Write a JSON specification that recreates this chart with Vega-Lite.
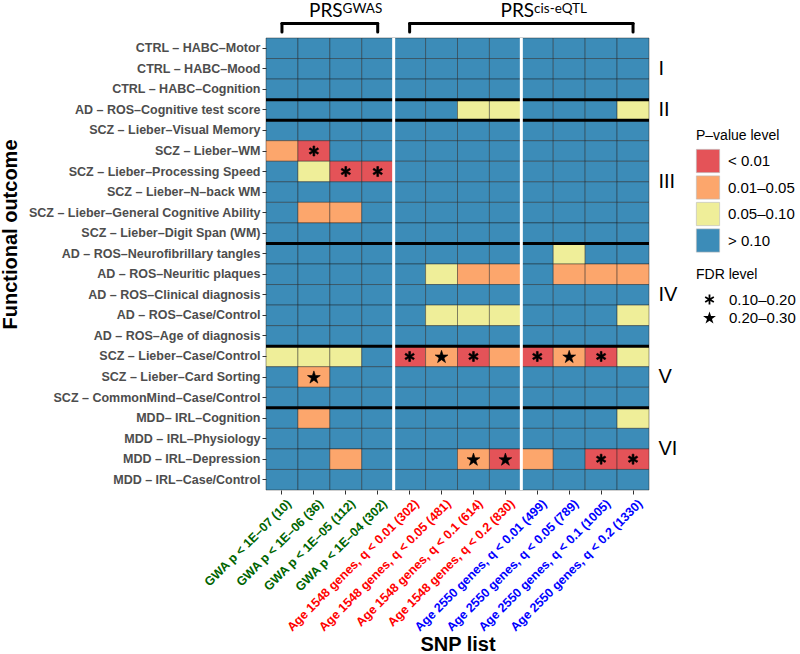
{
  "$schema": "https://vega.github.io/schema/vega-lite/v6.json",
  "padding": {"left": 0, "top": 0, "right": 0, "bottom": 0},
  "spacing": 0,
  "config": {"view": {"stroke": null}, "font": "Liberation Sans"},
  "datasets": {
    "outcomes": [
      {"r": 1, "o": "CTRL – HABC–Motor"},
      {"r": 2, "o": "CTRL – HABC–Mood"},
      {"r": 3, "o": "CTRL – HABC–Cognition"},
      {"r": 4, "o": "AD – ROS–Cognitive test score"},
      {"r": 5, "o": "SCZ – Lieber–Visual Memory"},
      {"r": 6, "o": "SCZ – Lieber–WM"},
      {"r": 7, "o": "SCZ – Lieber–Processing Speed"},
      {"r": 8, "o": "SCZ – Lieber–N–back WM"},
      {"r": 9, "o": "SCZ – Lieber–General Cognitive Ability"},
      {"r": 10, "o": "SCZ – Lieber–Digit Span (WM)"},
      {"r": 11, "o": "AD – ROS–Neurofibrillary tangles"},
      {"r": 12, "o": "AD – ROS–Neuritic plaques"},
      {"r": 13, "o": "AD – ROS–Clinical diagnosis"},
      {"r": 14, "o": "AD – ROS–Case/Control"},
      {"r": 15, "o": "AD – ROS–Age of diagnosis"},
      {"r": 16, "o": "SCZ – Lieber–Case/Control"},
      {"r": 17, "o": "SCZ – Lieber–Card Sorting"},
      {"r": 18, "o": "SCZ – CommonMind–Case/Control"},
      {"r": 19, "o": "MDD– IRL–Cognition"},
      {"r": 20, "o": "MDD – IRL–Physiology"},
      {"r": 21, "o": "MDD – IRL–Depression"},
      {"r": 22, "o": "MDD – IRL–Case/Control"}
    ],
    "snps": [
      {"c": 1, "s": "GWA p < 1E–07 (10)"},
      {"c": 2, "s": "GWA p < 1E–06 (36)"},
      {"c": 3, "s": "GWA p < 1E–05 (112)"},
      {"c": 4, "s": "GWA p < 1E–04 (302)"},
      {"c": 5, "s": "Age 1548 genes, q < 0.01 (302)"},
      {"c": 6, "s": "Age 1548 genes, q < 0.05 (481)"},
      {"c": 7, "s": "Age 1548 genes, q < 0.1 (614)"},
      {"c": 8, "s": "Age 1548 genes, q < 0.2 (830)"},
      {"c": 9, "s": "Age 2550 genes, q < 0.01 (499)"},
      {"c": 10, "s": "Age 2550 genes, q < 0.05 (789)"},
      {"c": 11, "s": "Age 2550 genes, q < 0.1 (1005)"},
      {"c": 12, "s": "Age 2550 genes, q < 0.2 (1330)"}
    ],
    "cells": [
      {"r":1,"c":1,"p":"> 0.10"},{"r":1,"c":2,"p":"> 0.10"},{"r":1,"c":3,"p":"> 0.10"},{"r":1,"c":4,"p":"> 0.10"},{"r":1,"c":5,"p":"> 0.10"},{"r":1,"c":6,"p":"> 0.10"},{"r":1,"c":7,"p":"> 0.10"},{"r":1,"c":8,"p":"> 0.10"},{"r":1,"c":9,"p":"> 0.10"},{"r":1,"c":10,"p":"> 0.10"},{"r":1,"c":11,"p":"> 0.10"},{"r":1,"c":12,"p":"> 0.10"},
      {"r":2,"c":1,"p":"> 0.10"},{"r":2,"c":2,"p":"> 0.10"},{"r":2,"c":3,"p":"> 0.10"},{"r":2,"c":4,"p":"> 0.10"},{"r":2,"c":5,"p":"> 0.10"},{"r":2,"c":6,"p":"> 0.10"},{"r":2,"c":7,"p":"> 0.10"},{"r":2,"c":8,"p":"> 0.10"},{"r":2,"c":9,"p":"> 0.10"},{"r":2,"c":10,"p":"> 0.10"},{"r":2,"c":11,"p":"> 0.10"},{"r":2,"c":12,"p":"> 0.10"},
      {"r":3,"c":1,"p":"> 0.10"},{"r":3,"c":2,"p":"> 0.10"},{"r":3,"c":3,"p":"> 0.10"},{"r":3,"c":4,"p":"> 0.10"},{"r":3,"c":5,"p":"> 0.10"},{"r":3,"c":6,"p":"> 0.10"},{"r":3,"c":7,"p":"> 0.10"},{"r":3,"c":8,"p":"> 0.10"},{"r":3,"c":9,"p":"> 0.10"},{"r":3,"c":10,"p":"> 0.10"},{"r":3,"c":11,"p":"> 0.10"},{"r":3,"c":12,"p":"> 0.10"},
      {"r":4,"c":1,"p":"> 0.10"},{"r":4,"c":2,"p":"> 0.10"},{"r":4,"c":3,"p":"> 0.10"},{"r":4,"c":4,"p":"> 0.10"},{"r":4,"c":5,"p":"> 0.10"},{"r":4,"c":6,"p":"> 0.10"},{"r":4,"c":7,"p":"0.05–0.10"},{"r":4,"c":8,"p":"0.05–0.10"},{"r":4,"c":9,"p":"> 0.10"},{"r":4,"c":10,"p":"> 0.10"},{"r":4,"c":11,"p":"> 0.10"},{"r":4,"c":12,"p":"0.05–0.10"},
      {"r":5,"c":1,"p":"> 0.10"},{"r":5,"c":2,"p":"> 0.10"},{"r":5,"c":3,"p":"> 0.10"},{"r":5,"c":4,"p":"> 0.10"},{"r":5,"c":5,"p":"> 0.10"},{"r":5,"c":6,"p":"> 0.10"},{"r":5,"c":7,"p":"> 0.10"},{"r":5,"c":8,"p":"> 0.10"},{"r":5,"c":9,"p":"> 0.10"},{"r":5,"c":10,"p":"> 0.10"},{"r":5,"c":11,"p":"> 0.10"},{"r":5,"c":12,"p":"> 0.10"},
      {"r":6,"c":1,"p":"0.01–0.05"},{"r":6,"c":2,"p":"< 0.01","f":"0.10–0.20"},{"r":6,"c":3,"p":"> 0.10"},{"r":6,"c":4,"p":"> 0.10"},{"r":6,"c":5,"p":"> 0.10"},{"r":6,"c":6,"p":"> 0.10"},{"r":6,"c":7,"p":"> 0.10"},{"r":6,"c":8,"p":"> 0.10"},{"r":6,"c":9,"p":"> 0.10"},{"r":6,"c":10,"p":"> 0.10"},{"r":6,"c":11,"p":"> 0.10"},{"r":6,"c":12,"p":"> 0.10"},
      {"r":7,"c":1,"p":"> 0.10"},{"r":7,"c":2,"p":"0.05–0.10"},{"r":7,"c":3,"p":"< 0.01","f":"0.10–0.20"},{"r":7,"c":4,"p":"< 0.01","f":"0.10–0.20"},{"r":7,"c":5,"p":"> 0.10"},{"r":7,"c":6,"p":"> 0.10"},{"r":7,"c":7,"p":"> 0.10"},{"r":7,"c":8,"p":"> 0.10"},{"r":7,"c":9,"p":"> 0.10"},{"r":7,"c":10,"p":"> 0.10"},{"r":7,"c":11,"p":"> 0.10"},{"r":7,"c":12,"p":"> 0.10"},
      {"r":8,"c":1,"p":"> 0.10"},{"r":8,"c":2,"p":"> 0.10"},{"r":8,"c":3,"p":"> 0.10"},{"r":8,"c":4,"p":"> 0.10"},{"r":8,"c":5,"p":"> 0.10"},{"r":8,"c":6,"p":"> 0.10"},{"r":8,"c":7,"p":"> 0.10"},{"r":8,"c":8,"p":"> 0.10"},{"r":8,"c":9,"p":"> 0.10"},{"r":8,"c":10,"p":"> 0.10"},{"r":8,"c":11,"p":"> 0.10"},{"r":8,"c":12,"p":"> 0.10"},
      {"r":9,"c":1,"p":"> 0.10"},{"r":9,"c":2,"p":"0.01–0.05"},{"r":9,"c":3,"p":"0.01–0.05"},{"r":9,"c":4,"p":"> 0.10"},{"r":9,"c":5,"p":"> 0.10"},{"r":9,"c":6,"p":"> 0.10"},{"r":9,"c":7,"p":"> 0.10"},{"r":9,"c":8,"p":"> 0.10"},{"r":9,"c":9,"p":"> 0.10"},{"r":9,"c":10,"p":"> 0.10"},{"r":9,"c":11,"p":"> 0.10"},{"r":9,"c":12,"p":"> 0.10"},
      {"r":10,"c":1,"p":"> 0.10"},{"r":10,"c":2,"p":"> 0.10"},{"r":10,"c":3,"p":"> 0.10"},{"r":10,"c":4,"p":"> 0.10"},{"r":10,"c":5,"p":"> 0.10"},{"r":10,"c":6,"p":"> 0.10"},{"r":10,"c":7,"p":"> 0.10"},{"r":10,"c":8,"p":"> 0.10"},{"r":10,"c":9,"p":"> 0.10"},{"r":10,"c":10,"p":"> 0.10"},{"r":10,"c":11,"p":"> 0.10"},{"r":10,"c":12,"p":"> 0.10"},
      {"r":11,"c":1,"p":"> 0.10"},{"r":11,"c":2,"p":"> 0.10"},{"r":11,"c":3,"p":"> 0.10"},{"r":11,"c":4,"p":"> 0.10"},{"r":11,"c":5,"p":"> 0.10"},{"r":11,"c":6,"p":"> 0.10"},{"r":11,"c":7,"p":"> 0.10"},{"r":11,"c":8,"p":"> 0.10"},{"r":11,"c":9,"p":"> 0.10"},{"r":11,"c":10,"p":"0.05–0.10"},{"r":11,"c":11,"p":"> 0.10"},{"r":11,"c":12,"p":"> 0.10"},
      {"r":12,"c":1,"p":"> 0.10"},{"r":12,"c":2,"p":"> 0.10"},{"r":12,"c":3,"p":"> 0.10"},{"r":12,"c":4,"p":"> 0.10"},{"r":12,"c":5,"p":"> 0.10"},{"r":12,"c":6,"p":"0.05–0.10"},{"r":12,"c":7,"p":"0.01–0.05"},{"r":12,"c":8,"p":"0.01–0.05"},{"r":12,"c":9,"p":"> 0.10"},{"r":12,"c":10,"p":"0.01–0.05"},{"r":12,"c":11,"p":"0.01–0.05"},{"r":12,"c":12,"p":"0.01–0.05"},
      {"r":13,"c":1,"p":"> 0.10"},{"r":13,"c":2,"p":"> 0.10"},{"r":13,"c":3,"p":"> 0.10"},{"r":13,"c":4,"p":"> 0.10"},{"r":13,"c":5,"p":"> 0.10"},{"r":13,"c":6,"p":"> 0.10"},{"r":13,"c":7,"p":"> 0.10"},{"r":13,"c":8,"p":"> 0.10"},{"r":13,"c":9,"p":"> 0.10"},{"r":13,"c":10,"p":"> 0.10"},{"r":13,"c":11,"p":"> 0.10"},{"r":13,"c":12,"p":"> 0.10"},
      {"r":14,"c":1,"p":"> 0.10"},{"r":14,"c":2,"p":"> 0.10"},{"r":14,"c":3,"p":"> 0.10"},{"r":14,"c":4,"p":"> 0.10"},{"r":14,"c":5,"p":"> 0.10"},{"r":14,"c":6,"p":"0.05–0.10"},{"r":14,"c":7,"p":"0.05–0.10"},{"r":14,"c":8,"p":"0.05–0.10"},{"r":14,"c":9,"p":"> 0.10"},{"r":14,"c":10,"p":"> 0.10"},{"r":14,"c":11,"p":"> 0.10"},{"r":14,"c":12,"p":"0.05–0.10"},
      {"r":15,"c":1,"p":"> 0.10"},{"r":15,"c":2,"p":"> 0.10"},{"r":15,"c":3,"p":"> 0.10"},{"r":15,"c":4,"p":"> 0.10"},{"r":15,"c":5,"p":"> 0.10"},{"r":15,"c":6,"p":"> 0.10"},{"r":15,"c":7,"p":"> 0.10"},{"r":15,"c":8,"p":"> 0.10"},{"r":15,"c":9,"p":"> 0.10"},{"r":15,"c":10,"p":"> 0.10"},{"r":15,"c":11,"p":"> 0.10"},{"r":15,"c":12,"p":"> 0.10"},
      {"r":16,"c":1,"p":"0.05–0.10"},{"r":16,"c":2,"p":"0.05–0.10"},{"r":16,"c":3,"p":"0.05–0.10"},{"r":16,"c":4,"p":"> 0.10"},{"r":16,"c":5,"p":"< 0.01","f":"0.10–0.20"},{"r":16,"c":6,"p":"0.01–0.05","f":"0.20–0.30"},{"r":16,"c":7,"p":"< 0.01","f":"0.10–0.20"},{"r":16,"c":8,"p":"0.01–0.05"},{"r":16,"c":9,"p":"< 0.01","f":"0.10–0.20"},{"r":16,"c":10,"p":"0.01–0.05","f":"0.20–0.30"},{"r":16,"c":11,"p":"< 0.01","f":"0.10–0.20"},{"r":16,"c":12,"p":"0.05–0.10"},
      {"r":17,"c":1,"p":"> 0.10"},{"r":17,"c":2,"p":"0.01–0.05","f":"0.20–0.30"},{"r":17,"c":3,"p":"> 0.10"},{"r":17,"c":4,"p":"> 0.10"},{"r":17,"c":5,"p":"> 0.10"},{"r":17,"c":6,"p":"> 0.10"},{"r":17,"c":7,"p":"> 0.10"},{"r":17,"c":8,"p":"> 0.10"},{"r":17,"c":9,"p":"> 0.10"},{"r":17,"c":10,"p":"> 0.10"},{"r":17,"c":11,"p":"> 0.10"},{"r":17,"c":12,"p":"> 0.10"},
      {"r":18,"c":1,"p":"> 0.10"},{"r":18,"c":2,"p":"> 0.10"},{"r":18,"c":3,"p":"> 0.10"},{"r":18,"c":4,"p":"> 0.10"},{"r":18,"c":5,"p":"> 0.10"},{"r":18,"c":6,"p":"> 0.10"},{"r":18,"c":7,"p":"> 0.10"},{"r":18,"c":8,"p":"> 0.10"},{"r":18,"c":9,"p":"> 0.10"},{"r":18,"c":10,"p":"> 0.10"},{"r":18,"c":11,"p":"> 0.10"},{"r":18,"c":12,"p":"> 0.10"},
      {"r":19,"c":1,"p":"> 0.10"},{"r":19,"c":2,"p":"0.01–0.05"},{"r":19,"c":3,"p":"> 0.10"},{"r":19,"c":4,"p":"> 0.10"},{"r":19,"c":5,"p":"> 0.10"},{"r":19,"c":6,"p":"> 0.10"},{"r":19,"c":7,"p":"> 0.10"},{"r":19,"c":8,"p":"> 0.10"},{"r":19,"c":9,"p":"> 0.10"},{"r":19,"c":10,"p":"> 0.10"},{"r":19,"c":11,"p":"> 0.10"},{"r":19,"c":12,"p":"0.05–0.10"},
      {"r":20,"c":1,"p":"> 0.10"},{"r":20,"c":2,"p":"> 0.10"},{"r":20,"c":3,"p":"> 0.10"},{"r":20,"c":4,"p":"> 0.10"},{"r":20,"c":5,"p":"> 0.10"},{"r":20,"c":6,"p":"> 0.10"},{"r":20,"c":7,"p":"> 0.10"},{"r":20,"c":8,"p":"> 0.10"},{"r":20,"c":9,"p":"> 0.10"},{"r":20,"c":10,"p":"> 0.10"},{"r":20,"c":11,"p":"> 0.10"},{"r":20,"c":12,"p":"> 0.10"},
      {"r":21,"c":1,"p":"> 0.10"},{"r":21,"c":2,"p":"> 0.10"},{"r":21,"c":3,"p":"0.01–0.05"},{"r":21,"c":4,"p":"> 0.10"},{"r":21,"c":5,"p":"> 0.10"},{"r":21,"c":6,"p":"> 0.10"},{"r":21,"c":7,"p":"0.01–0.05","f":"0.20–0.30"},{"r":21,"c":8,"p":"< 0.01","f":"0.20–0.30"},{"r":21,"c":9,"p":"0.01–0.05"},{"r":21,"c":10,"p":"> 0.10"},{"r":21,"c":11,"p":"< 0.01","f":"0.10–0.20"},{"r":21,"c":12,"p":"< 0.01","f":"0.10–0.20"},
      {"r":22,"c":1,"p":"> 0.10"},{"r":22,"c":2,"p":"> 0.10"},{"r":22,"c":3,"p":"> 0.10"},{"r":22,"c":4,"p":"> 0.10"},{"r":22,"c":5,"p":"> 0.10"},{"r":22,"c":6,"p":"> 0.10"},{"r":22,"c":7,"p":"> 0.10"},{"r":22,"c":8,"p":"> 0.10"},{"r":22,"c":9,"p":"> 0.10"},{"r":22,"c":10,"p":"> 0.10"},{"r":22,"c":11,"p":"> 0.10"},{"r":22,"c":12,"p":"> 0.10"}
    ]
  },
  "vconcat": [
    {
      "width": 383,
      "height": 36,
      "encoding": {
        "x": {"field": "s", "type": "nominal", "axis": null,
          "scale": {"domain": ["GWA p < 1E–07 (10)", "GWA p < 1E–06 (36)", "GWA p < 1E–05 (112)", "GWA p < 1E–04 (302)", "Age 1548 genes, q < 0.01 (302)", "Age 1548 genes, q < 0.05 (481)", "Age 1548 genes, q < 0.1 (614)", "Age 1548 genes, q < 0.2 (830)", "Age 2550 genes, q < 0.01 (499)", "Age 2550 genes, q < 0.05 (789)", "Age 2550 genes, q < 0.1 (1005)", "Age 2550 genes, q < 0.2 (1330)"], "paddingInner": 0, "paddingOuter": 0}}
      },
      "layer": [
        {
          "data": {"values": [
            {"s": "GWA p < 1E–07 (10)", "s2": "GWA p < 1E–04 (302)"},
            {"s": "Age 1548 genes, q < 0.01 (302)", "s2": "Age 2550 genes, q < 0.2 (1330)"}
          ]},
          "mark": {"type": "rule", "color": "black", "strokeWidth": 3, "strokeCap": "round"},
          "encoding": {
            "x2": {"field": "s2"},
            "y": {"datum": 12.5, "type": "quantitative", "scale": {"domain": [0, 36], "nice": false}, "axis": null}
          }
        },
        {
          "data": {"values": [
            {"s": "GWA p < 1E–07 (10)"}, {"s": "GWA p < 1E–04 (302)"},
            {"s": "Age 1548 genes, q < 0.01 (302)"}, {"s": "Age 2550 genes, q < 0.2 (1330)"}
          ]},
          "mark": {"type": "rule", "color": "black", "strokeWidth": 3, "strokeCap": "round"},
          "encoding": {
            "y": {"datum": 12.5, "type": "quantitative", "axis": null},
            "y2": {"datum": 4}
          }
        },
        {
          "data": {"values": [
            {"s": "GWA p < 1E–05 (112)", "t": "PRS"},
            {"s": "Age 2550 genes, q < 0.01 (499)", "t": "PRS"}
          ]},
          "mark": {"type": "text", "font": "Lato", "fontSize": 19, "align": "right", "baseline": "alphabetic", "color": "black"},
          "encoding": {
            "x": {"field": "s", "type": "nominal", "bandPosition": 0.4, "axis": null},
            "y": {"datum": 19.5, "type": "quantitative", "axis": null},
            "text": {"field": "t"}
          }
        },
        {
          "data": {"values": [
            {"s": "GWA p < 1E–05 (112)", "t": "GWAS"},
            {"s": "Age 2550 genes, q < 0.01 (499)", "t": "cis-eQTL"}
          ]},
          "mark": {"type": "text", "font": "Lato", "fontSize": 13.5, "align": "left", "baseline": "alphabetic", "color": "black"},
          "encoding": {
            "x": {"field": "s", "type": "nominal", "bandPosition": 0.4, "axis": null},
            "y": {"datum": 23.5, "type": "quantitative", "axis": null},
            "text": {"field": "t"}
          }
        }
      ]
    },
    {
      "width": 383,
      "height": 452,
      "data": {"name": "cells"},
      "transform": [
        {"lookup": "r", "from": {"data": {"name": "outcomes"}, "key": "r", "fields": ["o"]}},
        {"lookup": "c", "from": {"data": {"name": "snps"}, "key": "c", "fields": ["s"]}}
      ],
      "layer": [
        {
          "mark": {"type": "rect", "stroke": "#1a1a1a", "strokeWidth": 0.6, "strokeOpacity": 0.7},
          "encoding": {
            "x": {"field": "s", "type": "nominal", "title": "SNP list",
              "scale": {"domain": ["GWA p < 1E–07 (10)", "GWA p < 1E–06 (36)", "GWA p < 1E–05 (112)", "GWA p < 1E–04 (302)", "Age 1548 genes, q < 0.01 (302)", "Age 1548 genes, q < 0.05 (481)", "Age 1548 genes, q < 0.1 (614)", "Age 1548 genes, q < 0.2 (830)", "Age 2550 genes, q < 0.01 (499)", "Age 2550 genes, q < 0.05 (789)", "Age 2550 genes, q < 0.1 (1005)", "Age 2550 genes, q < 0.2 (1330)"], "paddingInner": 0, "paddingOuter": 0},
              "axis": {
                "labelAngle": -45, "labelFontSize": 12.5, "labelFontWeight": "bold", "labelLimit": 400, "labelOffset": 3,
                "labelColor": {"condition": [
                  {"test": "indexof(datum.value, 'GWA') == 0", "value": "#006400"},
                  {"test": "indexof(datum.value, '1548') >= 0", "value": "#ff0000"}
                ], "value": "#0000ff"},
                "domain": false, "ticks": true, "tickSize": 4, "tickColor": "#333333", "labelPadding": 3,
                "titleFontSize": 20, "titleFontWeight": "bold", "titleColor": "black", "titlePadding": 1
              }
            },
            "y": {"field": "o", "type": "nominal", "title": "Functional outcome",
              "scale": {"domain": ["CTRL – HABC–Motor", "CTRL – HABC–Mood", "CTRL – HABC–Cognition", "AD – ROS–Cognitive test score", "SCZ – Lieber–Visual Memory", "SCZ – Lieber–WM", "SCZ – Lieber–Processing Speed", "SCZ – Lieber–N–back WM", "SCZ – Lieber–General Cognitive Ability", "SCZ – Lieber–Digit Span (WM)", "AD – ROS–Neurofibrillary tangles", "AD – ROS–Neuritic plaques", "AD – ROS–Clinical diagnosis", "AD – ROS–Case/Control", "AD – ROS–Age of diagnosis", "SCZ – Lieber–Case/Control", "SCZ – Lieber–Card Sorting", "SCZ – CommonMind–Case/Control", "MDD– IRL–Cognition", "MDD – IRL–Physiology", "MDD – IRL–Depression", "MDD – IRL–Case/Control"], "paddingInner": 0, "paddingOuter": 0},
              "axis": {
                "orient": "left", "labelFontSize": 12.5, "labelFontWeight": "bold", "labelColor": "#4d4d4d", "labelLimit": 400,
                "domain": false, "tickSize": 4, "tickColor": "#333333", "labelPadding": 2,
                "titleFontSize": 20, "titleFontWeight": "bold", "titleColor": "black", "titleX": -246, "titleY": 196
              }
            },
            "fill": {"field": "p", "type": "nominal",
              "scale": {"domain": ["< 0.01", "0.01–0.05", "0.05–0.10", "> 0.10"], "range": ["#E45358", "#FCA66C", "#EFEE99", "#3C8CB8"]},
              "legend": {
                "title": "P–value level", "orient": "none", "legendX": 430, "legendY": 129,
                "symbolType": "square", "symbolSize": 540, "symbolStrokeColor": "#bbbbbb", "symbolStrokeWidth": 0.6, "symbolOpacity": 1,
                "labelFontSize": 15, "labelFont": "Liberation Sans", "labelColor": "black", "labelOffset": 8,
                "titleFontSize": 14, "titleFontWeight": "normal", "titleFont": "Liberation Sans", "titleColor": "black", "titlePadding": 6,
                "rowPadding": 0.5
              }
            }
          }
        },
        {
          "data": {"values": [
            {"o": "CTRL – HABC–Cognition"}, {"o": "AD – ROS–Cognitive test score"}, {"o": "SCZ – Lieber–Digit Span (WM)"},
            {"o": "AD – ROS–Age of diagnosis"}, {"o": "SCZ – CommonMind–Case/Control"}
          ]},
          "mark": {"type": "rule", "color": "black", "strokeWidth": 3},
          "encoding": {
            "y": {"field": "o", "type": "nominal", "bandPosition": 1, "axis": null}
          }
        },
        {
          "data": {"values": [
            {"s": "GWA p < 1E–04 (302)"}, {"s": "Age 1548 genes, q < 0.2 (830)"}
          ]},
          "mark": {"type": "rule", "color": "white", "strokeWidth": 3},
          "encoding": {
            "x": {"field": "s", "type": "nominal", "bandPosition": 1, "title": "SNP list"}
          }
        },
        {
          "transform": [{"filter": "datum.f"}],
          "mark": {"type": "point", "filled": true, "color": "black", "stroke": "black", "strokeWidth": 0.6, "opacity": 1},
          "encoding": {
            "x": {"field": "s", "type": "nominal", "title": "SNP list"},
            "y": {"field": "o", "type": "nominal", "axis": null},
            "size": {"value": 100},
            "shape": {"field": "f", "type": "nominal",
              "scale": {"domain": ["0.10–0.20", "0.20–0.30"], "range": ["M-0.18,-1L0.18,-1L0.18,-0.312L0.776,-0.656L0.956,-0.344L0.36,0L0.956,0.344L0.776,0.656L0.18,0.312L0.18,1L-0.18,1L-0.18,0.312L-0.776,0.656L-0.956,0.344L-0.36,0L-0.956,-0.344L-0.776,-0.656L-0.18,-0.312Z", "M0,-1.22L0.304,-0.287L1.284,-0.287L0.49,0.289L0.794,1.222L0,0.646L-0.794,1.222L-0.49,0.289L-1.284,-0.287L-0.304,-0.287Z"]},
              "legend": {
                "title": "FDR level", "orient": "none", "legendX": 430, "legendY": 268,
                "symbolSize": 100, "symbolFillColor": "black", "symbolStrokeColor": "black", "symbolStrokeWidth": 0.6, "symbolOpacity": 1, "symbolOffset": 6,
                "labelFontSize": 15, "labelFont": "Liberation Sans", "labelColor": "black", "labelOffset": 12,
                "titleFontSize": 14, "titleFontWeight": "normal", "titleFont": "Liberation Sans", "titleColor": "black", "titlePadding": 10,
                "rowPadding": 2
              }
            }
          }
        },
        {
          "mark": {"type": "point", "opacity": 0},
          "encoding": {
            "y": {"field": "o", "type": "nominal",
              "axis": {
                "orient": "right", "title": null, "ticks": false, "domain": false, "grid": false,
                "labelFontSize": 20, "labelFont": "Liberation Sans", "labelColor": "black", "labelPadding": 9,
                "labelOffset": {"condition": {"test": "datum.value == 'SCZ – Lieber–Processing Speed' || datum.value == 'MDD – IRL–Physiology'", "value": 10}, "value": 0},
                "labelExpr": "datum.value == 'CTRL – HABC–Mood' ? 'I' : datum.value == 'AD – ROS–Cognitive test score' ? 'II' : datum.value == 'SCZ – Lieber–Processing Speed' ? 'III' : datum.value == 'AD – ROS–Clinical diagnosis' ? 'IV' : datum.value == 'SCZ – Lieber–Card Sorting' ? 'V' : datum.value == 'MDD – IRL–Physiology' ? 'VI' : ''"
              }
            }
          }
        }
      ],
      "resolve": {"axis": {"y": "independent"}}
    }
  ]
}
